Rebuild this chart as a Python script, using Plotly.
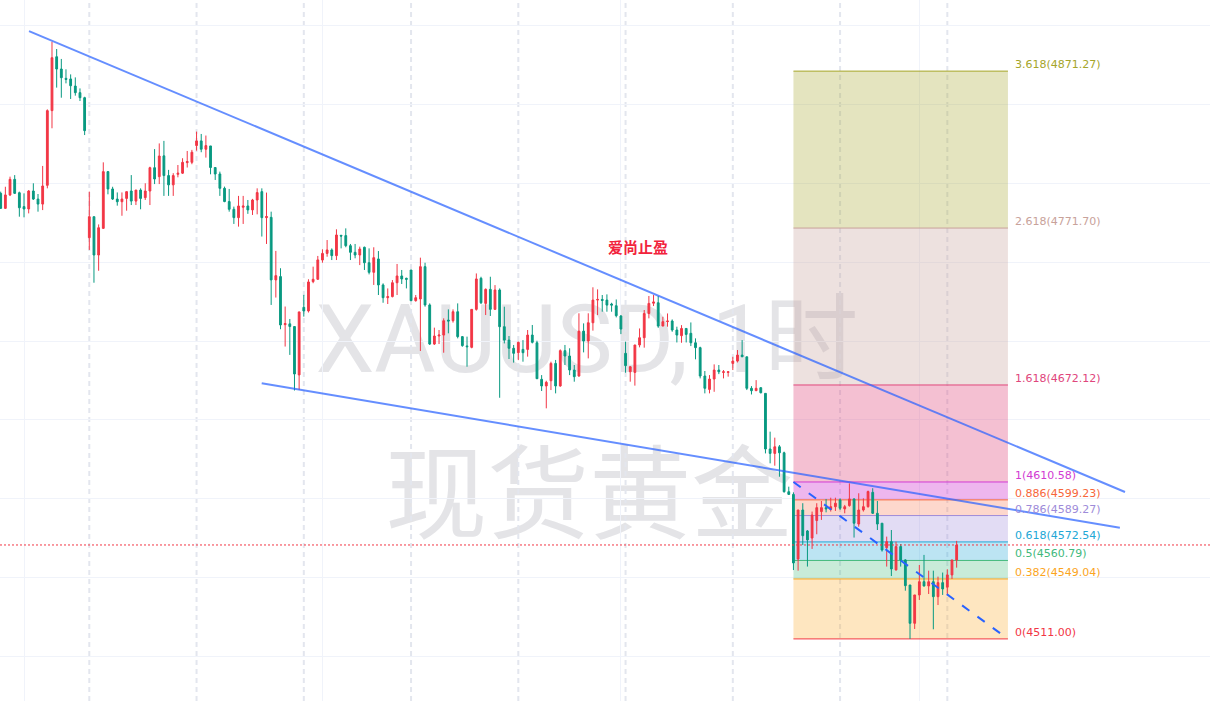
import plotly.graph_objects as go

# ---- XAUUSD 1H candles (oldest -> newest) ----
open_ = [4793.7, 4784.2, 4792.7, 4802.6, 4794.1, 4785.3, 4783.8, 4795.2, 4790.1, 4786.9,
         4798.8, 4846.2, 4880.4, 4872.6, 4866.7, 4866.3, 4861.8, 4857.6, 4854.4, 4765.6,
         4778.9, 4754.6, 4771.5, 4807.5, 4796.5, 4790.1, 4788.4, 4790.5, 4795.2, 4788.8,
         4795.8, 4791.0, 4795.2, 4810.0, 4804.3, 4817.5, 4805.0, 4799.1, 4805.8, 4806.5,
         4813.2, 4813.4, 4824.0, 4827.0, 4821.7, 4823.8, 4810.1, 4806.0, 4796.9, 4788.5,
         4783.6, 4778.3, 4784.9, 4785.7, 4783.2, 4789.5, 4794.8, 4778.3, 4778.5, 4738.8,
         4740.9, 4710.4, 4710.9, 4709.2, 4678.5, 4721.4, 4719.1, 4737.7, 4739.2, 4751.4,
         4755.6, 4757.8, 4754.2, 4767.1, 4766.9, 4760.5, 4756.3, 4754.6, 4759.5, 4749.7,
         4743.6, 4752.1, 4735.6, 4727.5, 4728.2, 4737.0, 4741.3, 4739.8, 4745.1, 4725.6,
         4726.7, 4747.2, 4722.9, 4698.1, 4703.2, 4703.8, 4713.3, 4712.9, 4718.6, 4702.8,
         4696.9, 4696.0, 4720.1, 4739.8, 4723.9, 4732.8, 4720.1, 4732.4, 4709.1, 4700.6,
         4695.4, 4692.6, 4694.7, 4694.7, 4703.8, 4698.9, 4675.7, 4671.5, 4674.8, 4685.8,
         4671.5, 4693.9, 4690.5, 4681.6, 4677.8, 4706.3, 4700.0, 4711.6, 4726.0, 4726.4,
         4726.0, 4723.5, 4722.4, 4715.9, 4692.2, 4680.5, 4680.1, 4697.5, 4702.1, 4717.5,
         4724.0, 4724.3, 4709.5, 4712.3, 4712.7, 4707.0, 4703.4, 4708.0, 4704.9, 4698.9,
         4695.8, 4677.8, 4669.3, 4675.9, 4681.6, 4680.1, 4680.1, 4685.8, 4687.3, 4691.1,
         4690.0, 4670.0, 4668.5, 4670.4, 4666.8, 4631.5, 4628.7, 4632.9, 4629.1, 4604.4,
         4602.7, 4561.7, 4592.8, 4579.5, 4575.0, 4586.1, 4591.8, 4594.3, 4593.2, 4594.9,
         4599.2, 4593.5, 4595.6, 4599.8, 4583.9, 4592.8, 4594.9, 4604.0, 4590.7, 4584.4,
         4568.9, 4572.7, 4554.8, 4569.6, 4561.1, 4545.2, 4520.9, 4538.9, 4547.3, 4544.6,
         4547.3, 4537.8, 4546.7, 4543.8, 4551.6, 4561.1]
high = [4794.8, 4797.9, 4804.3, 4805.3, 4794.8, 4793.7, 4795.8, 4800.1, 4793.3, 4811.1,
        4847.0, 4889.9, 4885.3, 4879.0, 4872.4, 4869.2, 4867.3, 4860.3, 4855.0, 4794.8,
        4778.9, 4774.0, 4813.4, 4807.9, 4797.9, 4794.3, 4794.3, 4794.8, 4805.3, 4795.8,
        4796.9, 4800.1, 4810.6, 4821.8, 4825.4, 4827.0, 4808.6, 4806.5, 4811.7, 4816.0,
        4820.6, 4821.3, 4832.9, 4831.4, 4830.4, 4823.8, 4810.1, 4807.5, 4798.0, 4796.5,
        4785.3, 4792.1, 4792.1, 4789.5, 4790.2, 4796.9, 4796.9, 4794.2, 4782.1, 4757.2,
        4746.2, 4721.9, 4714.0, 4709.2, 4718.5, 4729.3, 4739.2, 4747.2, 4754.0, 4758.2,
        4764.1, 4758.8, 4770.9, 4767.3, 4771.5, 4761.6, 4761.6, 4759.9, 4759.9, 4758.8,
        4759.5, 4757.1, 4736.6, 4733.4, 4738.7, 4748.9, 4745.1, 4740.2, 4745.1, 4729.2,
        4752.9, 4749.7, 4723.9, 4708.5, 4707.0, 4714.4, 4720.1, 4720.1, 4723.9, 4703.2,
        4702.8, 4720.1, 4742.9, 4740.8, 4733.4, 4740.8, 4735.5, 4733.4, 4721.8, 4703.2,
        4697.5, 4699.6, 4700.6, 4707.0, 4710.2, 4700.2, 4678.4, 4674.8, 4686.9, 4688.0,
        4694.7, 4697.5, 4695.4, 4684.8, 4717.6, 4711.2, 4717.6, 4734.1, 4732.8, 4729.2,
        4729.6, 4724.3, 4726.4, 4716.5, 4699.6, 4684.1, 4697.5, 4708.0, 4719.7, 4728.6,
        4729.2, 4728.6, 4715.4, 4717.5, 4713.7, 4709.1, 4710.1, 4708.0, 4711.8, 4701.7,
        4696.4, 4681.0, 4678.4, 4685.2, 4684.8, 4681.6, 4680.5, 4690.0, 4694.3, 4700.6,
        4690.0, 4671.4, 4675.2, 4670.6, 4666.8, 4642.5, 4638.7, 4634.0, 4629.8, 4607.6,
        4604.0, 4592.8, 4597.1, 4580.1, 4591.8, 4597.1, 4598.5, 4599.8, 4600.6, 4600.6,
        4600.2, 4596.0, 4609.7, 4600.2, 4603.4, 4600.2, 4605.1, 4606.6, 4598.5, 4584.4,
        4575.9, 4580.1, 4572.7, 4571.2, 4561.5, 4545.2, 4538.9, 4557.9, 4564.3, 4554.3,
        4554.3, 4550.5, 4553.1, 4555.2, 4561.1, 4573.2]
low = [4783.8, 4783.8, 4792.0, 4793.3, 4778.9, 4778.5, 4781.0, 4789.5, 4782.1, 4783.1,
       4796.9, 4835.0, 4860.8, 4854.4, 4863.5, 4853.6, 4855.7, 4852.3, 4830.7, 4757.8,
       4737.0, 4744.6, 4771.1, 4793.1, 4789.5, 4785.9, 4779.5, 4782.7, 4786.3, 4786.3,
       4783.6, 4789.5, 4786.3, 4799.6, 4799.6, 4792.1, 4792.1, 4792.1, 4803.9, 4806.0,
       4810.1, 4812.2, 4820.8, 4819.8, 4816.4, 4805.8, 4802.2, 4792.1, 4788.1, 4782.1,
       4774.3, 4772.6, 4774.3, 4780.7, 4780.0, 4780.4, 4766.3, 4761.6, 4722.9, 4727.6,
       4707.5, 4696.5, 4691.2, 4668.6, 4669.0, 4715.5, 4718.1, 4736.7, 4738.8, 4749.7,
       4753.5, 4751.4, 4751.4, 4758.8, 4759.5, 4751.4, 4752.5, 4748.2, 4745.1, 4742.3,
       4735.6, 4729.2, 4724.3, 4723.5, 4727.7, 4729.2, 4736.2, 4733.4, 4725.6, 4725.0,
       4693.7, 4721.8, 4697.5, 4697.5, 4698.1, 4692.6, 4704.9, 4711.7, 4701.7, 4696.4,
       4683.7, 4695.4, 4719.3, 4723.5, 4716.5, 4715.9, 4719.7, 4664.0, 4698.5, 4688.6,
       4686.3, 4687.9, 4686.9, 4690.1, 4698.5, 4675.9, 4668.3, 4657.3, 4668.9, 4666.8,
       4671.0, 4684.8, 4678.4, 4674.2, 4677.4, 4692.8, 4689.0, 4706.6, 4716.5, 4718.6,
       4718.6, 4718.6, 4715.0, 4704.4, 4679.9, 4674.2, 4671.7, 4696.0, 4695.8, 4714.4,
       4722.2, 4708.4, 4709.5, 4709.1, 4705.9, 4699.1, 4698.9, 4699.1, 4696.8, 4688.4,
       4676.3, 4666.8, 4666.8, 4667.8, 4679.0, 4676.3, 4677.4, 4681.6, 4686.4, 4690.0,
       4668.9, 4666.1, 4668.3, 4666.8, 4628.7, 4622.4, 4620.9, 4613.9, 4603.8, 4602.3,
       4554.7, 4554.3, 4570.6, 4556.9, 4568.1, 4577.4, 4586.5, 4591.3, 4591.8, 4592.2,
       4592.8, 4590.7, 4594.9, 4575.3, 4582.2, 4591.8, 4594.3, 4590.3, 4580.1, 4566.4,
       4556.9, 4550.9, 4554.3, 4556.9, 4541.6, 4511.0, 4517.3, 4535.7, 4544.2, 4539.5,
       4517.1, 4532.5, 4538.9, 4538.9, 4549.0, 4556.2]
close = [4784.2, 4792.7, 4802.6, 4793.7, 4784.6, 4783.8, 4795.2, 4790.1, 4786.9, 4798.4,
         4846.2, 4879.8, 4872.6, 4867.1, 4866.0, 4862.0, 4857.6, 4854.4, 4833.5, 4778.9,
         4754.6, 4771.9, 4807.5, 4796.5, 4790.1, 4788.4, 4790.1, 4794.8, 4788.8, 4795.8,
         4790.5, 4795.2, 4810.0, 4802.8, 4817.4, 4805.0, 4799.1, 4805.0, 4806.5, 4813.4,
         4813.9, 4819.8, 4827.0, 4821.7, 4824.0, 4810.1, 4806.0, 4796.9, 4788.5, 4783.6,
         4778.3, 4785.7, 4785.7, 4783.2, 4789.5, 4794.2, 4778.3, 4779.0, 4738.8, 4741.5,
         4710.2, 4711.1, 4709.2, 4679.1, 4718.5, 4719.1, 4737.5, 4739.2, 4751.5, 4755.6,
         4757.8, 4754.2, 4767.3, 4766.6, 4760.5, 4756.3, 4754.6, 4758.4, 4749.7, 4743.6,
         4752.9, 4735.6, 4727.5, 4728.2, 4737.0, 4741.3, 4739.4, 4739.2, 4725.6, 4727.5,
         4747.2, 4722.9, 4698.1, 4703.2, 4703.8, 4712.9, 4712.7, 4718.6, 4702.8, 4697.1,
         4696.4, 4720.1, 4739.4, 4724.3, 4732.8, 4720.1, 4732.4, 4709.1, 4700.6, 4695.4,
         4692.2, 4699.2, 4692.6, 4703.8, 4699.2, 4676.1, 4671.5, 4673.8, 4685.8, 4671.5,
         4693.9, 4690.5, 4681.6, 4677.4, 4706.3, 4700.0, 4711.6, 4726.0, 4726.4, 4725.8,
         4722.8, 4722.8, 4716.1, 4707.6, 4684.4, 4683.7, 4697.5, 4702.1, 4717.5, 4723.9,
         4724.8, 4709.5, 4712.3, 4712.7, 4707.0, 4703.8, 4708.0, 4704.2, 4698.9, 4695.8,
         4677.8, 4670.0, 4675.9, 4681.6, 4680.5, 4680.5, 4680.5, 4687.3, 4691.1, 4690.0,
         4670.0, 4668.5, 4670.0, 4667.2, 4631.5, 4628.7, 4632.9, 4629.1, 4604.4, 4602.7,
         4559.2, 4592.8, 4576.5, 4573.8, 4589.6, 4594.3, 4594.3, 4593.5, 4594.9, 4597.1,
         4593.9, 4594.9, 4599.8, 4584.4, 4592.8, 4594.9, 4604.5, 4590.7, 4583.9, 4567.4,
         4572.7, 4555.4, 4569.6, 4561.1, 4544.8, 4520.9, 4538.9, 4547.3, 4544.6, 4547.3,
         4537.8, 4546.7, 4542.7, 4551.6, 4561.1, 4570.6]

# Bars where a new trading session starts
session_starts = [19, 42, 65, 88, 111, 134, 157, 180, 203]

# ---- Fibonacci extension ----
fib_levels = ["0", "0.382", "0.5", "0.618", "0.786", "0.886", "1", "1.618", "2.618", "3.618"]
fib_prices = [4511.00, 4549.04, 4560.79, 4572.54, 4589.27, 4599.23, 4610.58, 4672.12, 4771.70, 4871.27]
fib_start_bar = 170
fib_end_bar = 216

# ---- Trend line anchors (bar, price) ----
upper_trend_bars = [6.07, 241.1]
upper_trend_prices = [4896.7, 4604.2]
lower_trend_bars = [55.97, 240.0]
lower_trend_prices = [4673.2, 4581.6]

# Note
note_text = "爱尚止盈"
note_bar = 136.7
note_price = 4760.3

symbol_text = "XAUUSD, 1时"
name_text = "现货黄金"

# ---- styling ----
UP = "#F23645"
DOWN = "#089981"
GRID = "#F0F3FA"
fib_colors = ["#F23645", "#FBA51E", "#42B97C", "#22A7D6", "#9E8BD9",
              "#F7663A", "#D23AD2", "#E0467C", "#C8A29A", "#A5A52A"]
band_alpha = [0.28, 0.29, 0.30, 0.30, 0.26, 0.37, 0.34, 0.32, 0.30]


def rgba(hex_color, a):
    h = hex_color.lstrip("#")
    r, g, b = int(h[0:2], 16), int(h[2:4], 16), int(h[4:6], 16)
    return f"rgba({r},{g},{b},{a})"


bars = list(range(len(open_)))
fig = go.Figure()

fig.add_trace(go.Candlestick(
    x=bars, open=open_, high=high, low=low, close=close,
    increasing=dict(line=dict(color=UP, width=1), fillcolor=UP),
    decreasing=dict(line=dict(color=DOWN, width=1), fillcolor=DOWN),
    whiskerwidth=0, hoverinfo="skip", showlegend=False,
))

# trend lines
trend_color = "rgba(41,98,255,0.72)"
fig.add_trace(go.Scatter(x=upper_trend_bars, y=upper_trend_prices, mode="lines",
                         line=dict(color=trend_color, width=2), hoverinfo="skip"))
fig.add_trace(go.Scatter(x=lower_trend_bars, y=lower_trend_prices, mode="lines",
                         line=dict(color=trend_color, width=2), hoverinfo="skip"))
# projection from level 1 to level 0
fig.add_trace(go.Scatter(x=[fib_start_bar, fib_end_bar],
                         y=[fib_prices[fib_levels.index("1")], fib_prices[0]],
                         mode="lines", line=dict(color="#2962FF", width=2, dash="9px,10px"),
                         hoverinfo="skip"))

shapes = []
# fib bands (band i spans level i -> level i+1, tinted with the upper level colour)
for i in range(len(fib_prices) - 1):
    shapes.append(dict(type="rect", xref="x", yref="y", layer="between",
                       x0=fib_start_bar, x1=fib_end_bar,
                       y0=fib_prices[i], y1=fib_prices[i + 1],
                       line=dict(width=0),
                       fillcolor=rgba(fib_colors[i + 1], band_alpha[i])))

# watermark
wm_color = "#E4E4E7"
shapes.append(dict(type="rect", xref="paper", yref="paper", layer="between",
                   x0=0.185, x1=0.785, y0=0.445, y1=0.605,
                   line=dict(width=0), fillcolor="rgba(0,0,0,0)",
                   label=dict(text=symbol_text, textposition="middle center",
                              font=dict(family="Roboto, Noto Sans CJK SC",
                                        size=94, color=wm_color))))
shapes.append(dict(type="rect", xref="paper", yref="paper", layer="between",
                   x0=0.187, x1=0.787, y0=0.203, y1=0.363,
                   line=dict(width=0), fillcolor="rgba(0,0,0,0)",
                   label=dict(text=name_text, textposition="middle center",
                              font=dict(family="Noto Sans CJK SC", size=102, color=wm_color))))

# session separators
for b in session_starts:
    shapes.append(dict(type="line", xref="x", yref="paper", layer="between",
                       x0=b, x1=b, y0=0, y1=1,
                       line=dict(color="#E3E6EE", width=2, dash="5px,4px")))

# fib level lines
for p, c in zip(fib_prices, fib_colors):
    shapes.append(dict(type="line", xref="x", yref="y", layer="between",
                       x0=fib_start_bar, x1=fib_end_bar, y0=p, y1=p,
                       line=dict(color=c, width=1)))

# last price line
shapes.append(dict(type="line", xref="paper", yref="y", layer="above",
                   x0=0, x1=1, y0=close[-1], y1=close[-1],
                   line=dict(color=UP, width=1, dash="2px,2px")))

annotations = []
for lvl, p, c in zip(fib_levels, fib_prices, fib_colors):
    annotations.append(dict(x=fib_end_bar + 1.1, y=p, xref="x", yref="y",
                            text=f"{lvl}({p:.2f})", showarrow=False,
                            xanchor="left", yanchor="bottom", yshift=-2,
                            font=dict(family="DejaVu Sans", size=11, color=c)))
annotations.append(dict(x=note_bar, y=note_price, xref="x", yref="y",
                        text=f"<b>{note_text}</b>", showarrow=False,
                        xanchor="center", yanchor="middle",
                        font=dict(family="Noto Sans CJK SC", size=15, color="#F2233C")))

fig.update_layout(
    width=1210, height=701,
    margin=dict(l=0, r=0, t=0, b=0),
    paper_bgcolor="white", plot_bgcolor="white",
    showlegend=False, boxgap=0.45,
    shapes=shapes, annotations=annotations,
    xaxis=dict(range=[-0.15, 259.33], showticklabels=False, showgrid=True,
               gridcolor=GRID, gridwidth=1, tick0=5, dtick=64, zeroline=False,
               showline=False, rangeslider=dict(visible=False), fixedrange=True),
    yaxis=dict(range=[4471.6, 4916.4], showticklabels=False, showgrid=True,
               gridcolor=GRID, gridwidth=1, tick0=4500, dtick=50, zeroline=False,
               showline=False, fixedrange=True),
)

fig.write_html("out.html", config={"displayModeBar": False},
               post_script="document.body.style.margin='0';")
